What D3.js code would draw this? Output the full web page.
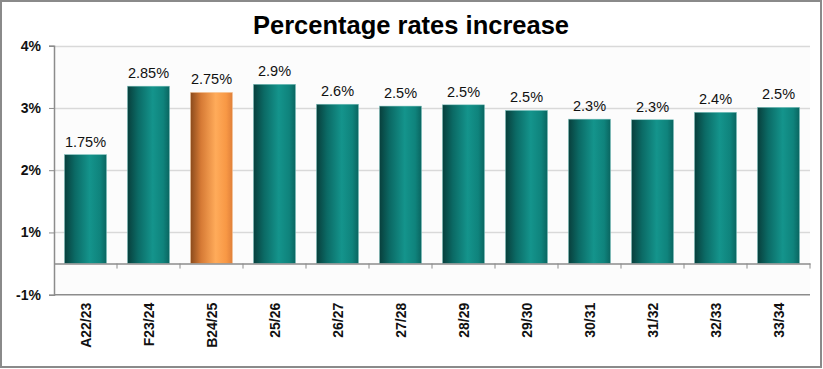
<!DOCTYPE html>
<html>
<head>
<meta charset="utf-8">
<script src="https://cdn.jsdelivr.net/npm/d3@7"></script>
<style>
  body { margin: 0; background: #fff; }
  svg { display: block; font-family: "Liberation Sans", Arial, sans-serif; }
</style>
</head>
<body>
<svg width="823" height="369"></svg>
<script>
// chart data
const categories = ["A22/23", "F23/24", "B24/25", "25/26", "26/27", "27/28", "28/29", "29/30", "30/31", "31/32", "32/33", "33/34"];
const rates = [1.75, 2.85, 2.75, 2.88, 2.56, 2.53, 2.55, 2.46, 2.32, 2.31, 2.43, 2.51];
const rateLabels = ["1.75%", "2.85%", "2.75%", "2.9%", "2.6%", "2.5%", "2.5%", "2.5%", "2.3%", "2.3%", "2.4%", "2.5%"];
const highlighted = "B24/25";
// tick labels as printed on the original axis (offset by half a point)
const tickValues = [3.5, 2.5, 1.5, 0.5, -0.5];
const tickLabels = ["4%", "3%", "2%", "1%", "-1%"];

const width = 823, height = 369;
const plot = {left: 54, right: 810, top: 45.7, bottom: 294.7};

const svg = d3.select("svg");

// outer frame
svg.append("rect")
    .attr("x", 1).attr("y", 1)
    .attr("width", width - 3).attr("height", height - 3)
    .attr("fill", "#fff")
    .attr("stroke", "#8a8a8a")
    .attr("stroke-width", 2);

// gradients
const defs = svg.append("defs");
function makeGrad(id, stops) {
    const g = defs.append("linearGradient").attr("id", id)
        .attr("x1", "0%").attr("x2", "100%").attr("y1", "0%").attr("y2", "0%");
    stops.forEach(s => g.append("stop").attr("offset", s[0]).attr("stop-color", s[1]));
}
makeGrad("teal", [["0%", "#083f3c"], ["25%", "#0b6a65"], ["60%", "#14948c"], ["85%", "#0f837c"], ["100%", "#0a6560"]]);
makeGrad("orange", [["0%", "#8a4a1c"], ["25%", "#d67a35"], ["60%", "#ffab5a"], ["85%", "#f89845"], ["100%", "#e0803a"]]);

const x = d3.scaleBand()
    .domain(categories)
    .range([plot.left, plot.right])
    .paddingInner(0.333)
    .paddingOuter(0.1665);

const y = d3.scaleLinear()
    .domain([-0.5, 3.5])
    .range([plot.bottom, plot.top]);

// plot background
svg.append("rect")
    .attr("x", plot.left).attr("y", plot.top)
    .attr("width", plot.right - plot.left).attr("height", plot.bottom - plot.top)
    .attr("fill", "#fcfcfc");

// gridlines
svg.append("g")
    .selectAll("line")
    .data(tickValues.filter(v => v > 0))
    .join("line")
    .attr("x1", plot.left).attr("x2", plot.right)
    .attr("y1", d => Math.round(y(d)) + 0.5).attr("y2", d => Math.round(y(d)) + 0.5)
    .attr("stroke", "#d9d9d9")
    .attr("stroke-width", 1.5);

// bottom line of plot
svg.append("line")
    .attr("x1", plot.left).attr("x2", plot.right)
    .attr("y1", y(-0.5)).attr("y2", y(-0.5))
    .attr("stroke", "#8c8c8c").attr("stroke-width", 1.5);

// bars
svg.append("g")
    .selectAll("rect")
    .data(categories)
    .join("rect")
    .attr("x", d => x(d))
    .attr("y", (d, i) => y(rates[i]))
    .attr("width", x.bandwidth())
    .attr("height", (d, i) => y(0) - y(rates[i]))
    .attr("fill", d => d === highlighted ? "url(#orange)" : "url(#teal)")
    .attr("stroke", d => d === highlighted ? "#f5c9a0" : "#7fc4bf")
    .attr("stroke-width", 0.5);

// value labels
svg.append("g")
    .selectAll("text")
    .data(categories)
    .join("text")
    .attr("x", d => x(d) + x.bandwidth() / 2)
    .attr("y", (d, i) => y(rates[i]) - 8)
    .attr("text-anchor", "middle")
    .attr("font-size", 14.5)
    .attr("fill", "#111")
    .text((d, i) => rateLabels[i]);

// category axis at zero
const xAxis = svg.append("g")
    .attr("transform", `translate(0,${y(0)})`)
    .call(d3.axisBottom(x).tickSize(0).tickFormat(""));
xAxis.select(".domain").attr("stroke", "#8c8c8c").attr("stroke-width", 1.5);
// tick marks between categories
xAxis.selectAll("line.sep")
    .data(categories)
    .join("line")
    .attr("class", "sep")
    .attr("x1", d => x(d) + x.bandwidth() + x.step() * 0.1665)
    .attr("x2", d => x(d) + x.bandwidth() + x.step() * 0.1665)
    .attr("y1", 0).attr("y2", 5)
    .attr("stroke", "#8c8c8c").attr("stroke-width", 1);

// category labels (rotated)
svg.append("g")
    .selectAll("text")
    .data(categories)
    .join("text")
    .attr("transform", d => `translate(${x(d) + x.bandwidth() / 2 + 5},${plot.bottom + 8}) rotate(-90)`)
    .attr("text-anchor", "end")
    .attr("font-size", 14)
    .attr("font-weight", "bold")
    .attr("fill", "#111")
    .text(d => d);

// value axis
const yAxis = svg.append("g")
    .attr("transform", `translate(${plot.left},0)`)
    .call(d3.axisLeft(y)
        .tickValues(tickValues)
        .tickSize(5)
        .tickFormat((d, i) => tickLabels[i]));
yAxis.select(".domain").attr("stroke", "#8c8c8c").attr("stroke-width", 1.5);
yAxis.selectAll(".tick line").attr("stroke", "#8c8c8c");
yAxis.selectAll(".tick text")
    .attr("x", -13)
    .attr("font-size", 14)
    .attr("font-weight", "bold")
    .attr("fill", "#111")
    .attr("font-family", "Liberation Sans, Arial, sans-serif");

// title
svg.append("text")
    .attr("x", 411)
    .attr("y", 34)
    .attr("text-anchor", "middle")
    .attr("font-size", 25.5)
    .attr("font-weight", "bold")
    .attr("fill", "#000")
    .text("Percentage rates increase");
</script>
</body>
</html>
